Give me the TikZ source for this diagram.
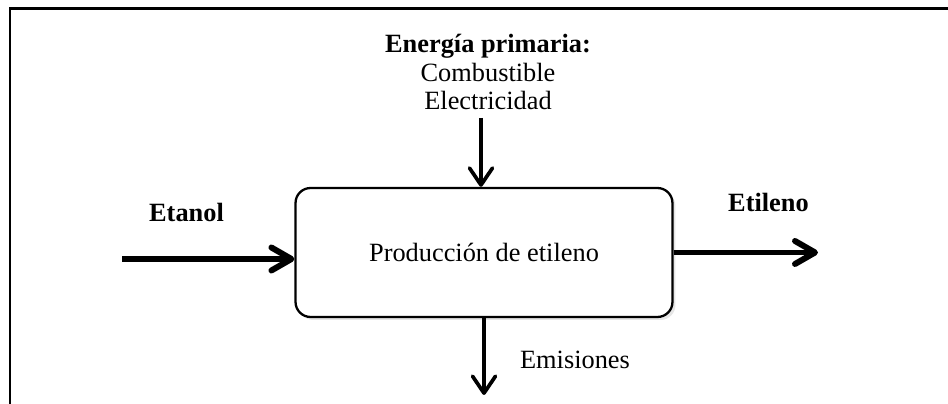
\documentclass[tikz,border=0pt]{standalone}
\usepackage{fontspec}
\setmainfont{Liberation Serif}
\usetikzlibrary{arrows.meta,shadows}

\begin{document}
\begin{tikzpicture}[x=0.02cm, y=-0.02cm,
      every node/.style={font=\fontsize{15}{16.2}\selectfont},
      procbox/.style={rectangle, rounded corners=0.3cm, draw=black, line width=1.3pt,
        fill=white, minimum width=7.54cm, minimum height=2.58cm,
        drop shadow={opacity=0.2, shadow xshift=0.6mm, shadow yshift=-0.6mm}},
      mainflow/.style={line width=3.4pt, -{Straight Barb[length=4mm, width=4.6mm, round]}},
      sideflow/.style={line width=2.1pt, -{Straight Barb[length=3.4mm, width=4.6mm, round]}},
      frame/.style={line width=1.7pt}]

    \useasboundingbox (0,0) rectangle (948,404);
    \draw[frame] (10,404) -- (10,9) -- (948,9);

    \node[procbox] (proc) at (484,252.5) {Producción de etileno};

    \node[align=center] (energia) at (488,72) {\textbf{Energía primaria:}\\Combustible\\Electricidad};
    \node[anchor=base] (etanol) at (186.5,222) {\textbf{Etanol}};
    \node[anchor=base] (etileno) at (768.5,212) {\textbf{Etileno}};
    \node[anchor=base] (emis) at (575,369) {Emisiones};

    \coordinate (etanolin) at (122,259);
    \coordinate (etilenout) at (818,252.5);
    \coordinate (energiain) at (481,118);
    \coordinate (emisout) at (484,395);

    \draw[mainflow] (etanolin) -- (proc.west |- etanolin);
    \draw[mainflow] (proc.east) -- (etilenout);

    \draw[sideflow] (energiain) -- (energiain |- proc.north);
    \draw[sideflow] (proc.south) -- (emisout);

  \end{tikzpicture}
\end{document}
